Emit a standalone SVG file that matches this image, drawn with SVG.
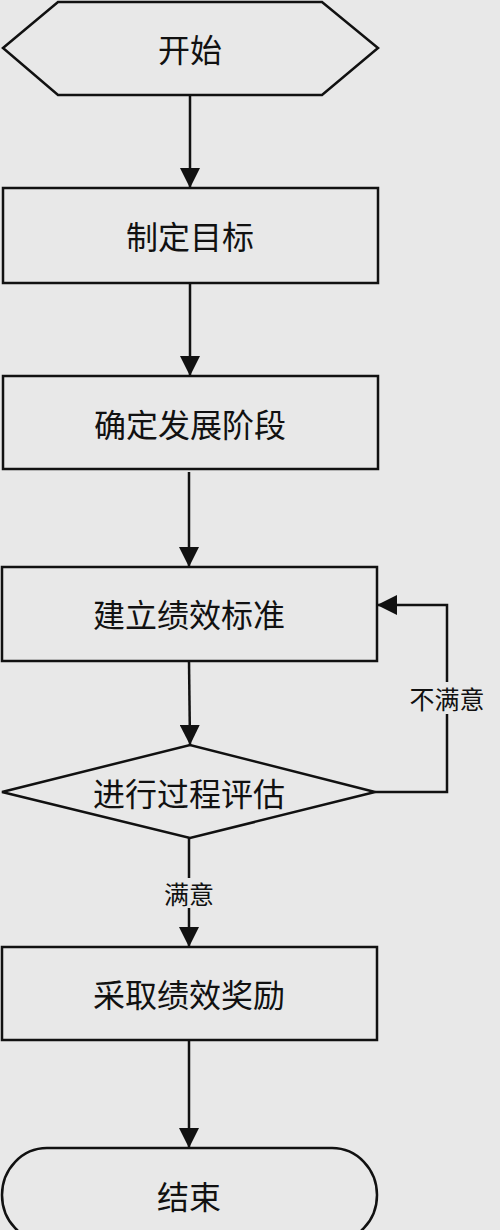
<svg xmlns="http://www.w3.org/2000/svg" width="500" height="1230" viewBox="0 0 500 1230">
<style>
.shape{fill:#e8e8e8;stroke:#111;stroke-width:2.5}
.lbl{font-family:"Noto Sans CJK SC","Noto Sans",sans-serif;font-size:32px;fill:#111;text-anchor:middle;dominant-baseline:central}
.edge{fill:none;stroke:#111;stroke-width:2.5}
.elbl{font-family:"Noto Sans CJK SC","Noto Sans",sans-serif;font-size:25px;fill:#111;text-anchor:middle;dominant-baseline:central}
</style>
<defs>
<marker id="arr" viewBox="0 0 20 20" refX="20" refY="10" markerWidth="20" markerHeight="20" markerUnits="userSpaceOnUse" orient="auto">
<path d="M0,0 L20,10 L0,20 Z" fill="#111"/>
</marker>
</defs>
<rect x="0" y="0" width="500" height="1230" fill="#e8e8e8"/>
<g id="connectors">
<line class="edge" x1="190" y1="95" x2="190" y2="188" marker-end="url(#arr)"/>
<line class="edge" x1="190" y1="283" x2="190" y2="376" marker-end="url(#arr)"/>
<line class="edge" x1="189" y1="472" x2="189" y2="567" marker-end="url(#arr)"/>
<line class="edge" x1="189" y1="661" x2="190" y2="745" marker-end="url(#arr)"/>
<polyline class="edge" points="375,792 447,792 447,605 377,605" marker-end="url(#arr)"/>
<line class="edge" x1="189" y1="838" x2="189" y2="947" marker-end="url(#arr)"/>
<line class="edge" x1="189" y1="1040" x2="189" y2="1148" marker-end="url(#arr)"/>
<rect x="405" y="682" width="84" height="32" fill="#e8e8e8"/>
<text class="elbl" x="447" y="698">不满意</text>
<rect x="160" y="878" width="58" height="30" fill="#e8e8e8"/>
<text class="elbl" x="189" y="893">满意</text>
</g>
<g id="start">
<polygon class="shape" points="3,48 58,2 322,2 378,48 322,95 58,95"/>
<text class="lbl" x="190" y="48">开始</text>
</g>
<g id="n1">
<rect class="shape" x="3" y="188" width="375" height="95"/>
<text class="lbl" x="190" y="235">制定目标</text>
</g>
<g id="n2">
<rect class="shape" x="3" y="376" width="375" height="93"/>
<text class="lbl" x="190" y="423">确定发展阶段</text>
</g>
<g id="n3">
<rect class="shape" x="2" y="567" width="375" height="94"/>
<text class="lbl" x="189" y="613">建立绩效标准</text>
</g>
<g id="decision">
<polygon class="shape" points="2,792 190,745 375,792 190,838"/>
<text class="lbl" x="189" y="792">进行过程评估</text>
</g>
<g id="n4">
<rect class="shape" x="2" y="947" width="375" height="93"/>
<text class="lbl" x="189" y="993">采取绩效奖励</text>
</g>
<g id="end">
<rect class="shape" x="2" y="1148" width="375" height="94" rx="45" ry="47"/>
<text class="lbl" x="189" y="1195">结束</text>
</g>
</svg>
